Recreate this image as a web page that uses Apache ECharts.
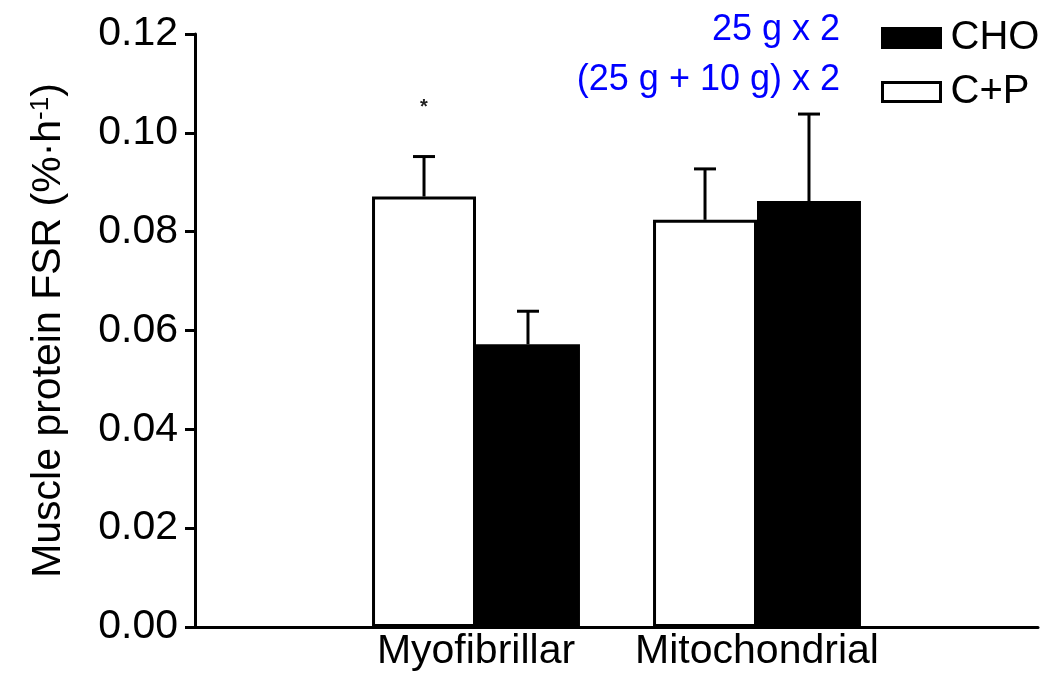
<!DOCTYPE html>
<html><head><meta charset="utf-8">
<script src="https://cdn.jsdelivr.net/npm/echarts@6/dist/echarts.min.js"></script>
<style>html,body{margin:0;padding:0;background:#fff}#c{width:1053px;height:677px}</style>
</head><body><div id="c"></div>
<script>
// ---- data ----
const categories = ['', 'Myofibrillar', 'Mitochondrial', ''];
const seriesNames = ['C+P', 'CHO'];
const cpMean   = [null, 0.0871, 0.0824, null];
const choMean  = [null, 0.0572, 0.0862, null];
const cpUpper  = [null, 0.0952, 0.0927, null];
const choUpper = [null, 0.0639, 0.1038, null];
const starValue = [null, 0.1058, null, null];
const legendOrder = ['CHO', 'C+P'];
const doseLabels = ['25 g x 2', '(25 g + 10 g) x 2'];
const yMin = 0, yMax = 0.12, yStep = 0.02;
const yAxisName = ['Muscle protein FSR (%·h', '-1', ')'];

// ---- style ----
const FONT = 'Liberation Sans, Arial, sans-serif';
const BAR_RATIO = 0.37;

function errData(mean, upper) {
  const out = [];
  for (let i = 0; i < categories.length; i++) {
    if (mean[i] != null) out.push([i, mean[i], upper[i]]);
  }
  return out;
}
function errRender(sign) {
  return function (params, api) {
    const band = api.size([1, 0])[0];
    const half = band * BAR_RATIO / 2;
    const base = api.coord([api.value(0), api.value(1)]);
    const top = api.coord([api.value(0), api.value(2)]);
    const x = base[0] + sign * half;
    const st = { stroke: '#000', lineWidth: 3 };
    return { type: 'group', children: [
      { type: 'line', shape: { x1: x, y1: base[1], x2: x, y2: top[1] }, style: st },
      { type: 'line', shape: { x1: x - 11, y1: top[1], x2: x + 11, y2: top[1] }, style: st }
    ]};
  };
}
const starData = [];
for (let i = 0; i < categories.length; i++) if (starValue[i] != null) starData.push([i, starValue[i]]);

const chart = echarts.init(document.getElementById('c'), null, { renderer: 'canvas' });
chart.setOption({
  animation: false,
  backgroundColor: '#fff',
  textStyle: { fontFamily: FONT },
  grid: { left: 195, right: 15, top: 34, bottom: 50, containLabel: false, outerBoundsMode: 'none' },
  legend: {
    data: legendOrder,
    orient: 'vertical',
    left: 876, top: 13,
    icon: 'rect',
    itemWidth: 58, itemHeight: 19, itemGap: 14,
    itemStyle: { borderWidth: 3 },
    textStyle: { fontSize: 40, color: '#000', fontFamily: FONT, padding: [0, 0, 0, 5] },
    selectedMode: false
  },
  xAxis: {
    type: 'category',
    data: categories,
    boundaryGap: false,
    axisLine: { lineStyle: { color: '#000', width: 3 } },
    axisTick: { show: false },
    axisLabel: { color: '#000', fontSize: 41, margin: 4, fontFamily: FONT, interval: 0 },
    splitLine: { show: false }
  },
  yAxis: {
    type: 'value',
    min: yMin, max: yMax, interval: yStep,
    name: '{a|' + yAxisName[0] + '}{s|' + yAxisName[1] + '}{a|' + yAxisName[2] + '}',
    nameLocation: 'middle',
    nameGap: 126,
    nameTextStyle: {
      rich: {
        a: { fontSize: 41, color: '#000', fontFamily: FONT },
        s: { fontSize: 26, color: '#000', fontFamily: FONT, verticalAlign: 'top' }
      }
    },
    axisLine: { show: true, lineStyle: { color: '#000', width: 3 } },
    axisTick: { show: true, length: 10, lineStyle: { color: '#000', width: 3 } },
    axisLabel: { color: '#000', fontSize: 41, margin: 17, fontFamily: FONT,
      formatter: v => v.toFixed(2) },
    splitLine: { show: false }
  },
  series: [
    { name: seriesNames[0], type: 'bar', data: cpMean, barWidth: (BAR_RATIO * 100) + '%', barGap: '0%',
      itemStyle: { color: '#fff', borderColor: '#000', borderWidth: 3 } },
    { name: seriesNames[1], type: 'bar', data: choMean, barWidth: (BAR_RATIO * 100) + '%', barGap: '0%',
      itemStyle: { color: '#000', borderColor: '#000', borderWidth: 0 } },
    { name: 'err-cp', type: 'custom', data: errData(cpMean, cpUpper), renderItem: errRender(-1), z: 5 },
    { name: 'err-cho', type: 'custom', data: errData(choMean, choUpper), renderItem: errRender(1), z: 5 },
    { name: 'sig', type: 'custom', data: starData, z: 5,
      renderItem: function (params, api) {
        const band = api.size([1, 0])[0];
        const p = api.coord([api.value(0), api.value(1)]);
        return { type: 'text', x: p[0] - band * BAR_RATIO / 2, y: p[1] + 3,
          style: { text: '*', fill: '#222', font: 'bold 20px ' + FONT, align: 'center', verticalAlign: 'middle' } };
      } }
  ],
  graphic: [
    { type: 'text', x: 840, y: 30, style: { text: doseLabels[0], fill: '#0000ff', font: '36px ' + FONT, align: 'right', verticalAlign: 'middle' } },
    { type: 'text', x: 840, y: 80, style: { text: doseLabels[1], fill: '#0000ff', font: '36px ' + FONT, align: 'right', verticalAlign: 'middle' } }
  ]
});
</script>
</body></html>
